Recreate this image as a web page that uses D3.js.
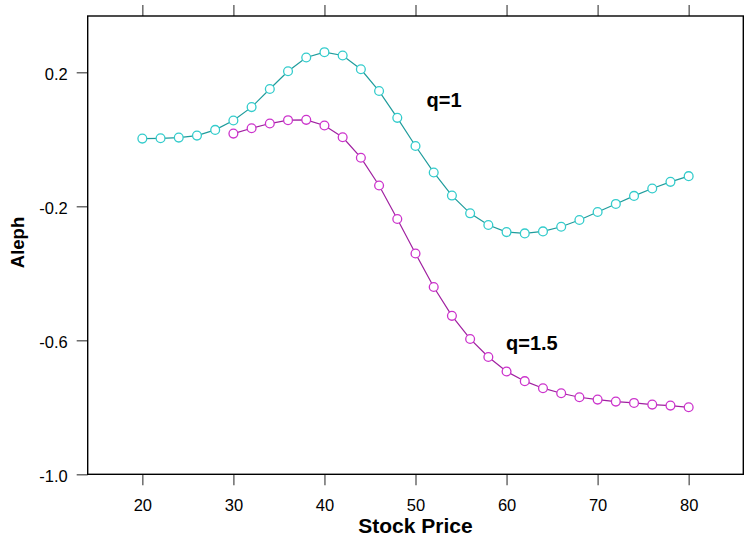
<!DOCTYPE html>
<html>
<head>
<meta charset="utf-8">
<script src="https://cdn.jsdelivr.net/npm/d3@7"></script>
<style>
  html, body { margin: 0; padding: 0; background: #fff; }
  svg { display: block; font-family: "Liberation Sans", Arial, sans-serif; }
</style>
</head>
<body>
<svg id="chart" width="744" height="537"></svg>
<script>
// ---- data ----
const stockQ1 = [20,22,24,26,28,30,32,34,36,38,40,42,44,46,48,50,52,54,56,58,60,62,64,66,68,70,72,74,76,78,80];
const alephQ1 = [0.002,0.003,0.005,0.011,0.028,0.056,0.096,0.150,0.203,0.244,0.260,0.250,0.209,0.144,0.064,-0.020,-0.099,-0.168,-0.221,-0.256,-0.277,-0.281,-0.275,-0.261,-0.241,-0.217,-0.193,-0.169,-0.147,-0.127,-0.110];
const stockQ15 = [30,32,34,36,38,40,42,44,46,48,50,52,54,56,58,60,62,64,66,68,70,72,74,76,78,80];
const alephQ15 = [0.017,0.033,0.047,0.057,0.058,0.041,0.006,-0.055,-0.138,-0.238,-0.341,-0.441,-0.527,-0.596,-0.650,-0.693,-0.722,-0.743,-0.758,-0.770,-0.777,-0.783,-0.787,-0.792,-0.795,-0.800];
const xTicks = [20,30,40,50,60,70,80];
const yTicks = [0.2,-0.2,-0.6,-1.0];
const yTickLabels = ["0.2","-0.2","-0.6","-1.0"];
const seriesLabels = ["q=1","q=1.5"];
const xTitle = "Stock Price";
const yTitle = "Aleph";

(function () {
// ---- layout ----
const L = 87.7, R = 743.3, T = 16, B = 474.3;
const x = d3.scaleLinear().domain([14, 86]).range([L, R]);
const y = d3.scaleLinear().domain([-1.0, 0.368]).range([B, T]);

const svg = d3.select("#chart");

// axes
const gBottom = svg.append("g").attr("transform", `translate(0,${B})`)
  .call(d3.axisBottom(x).tickValues(xTicks).tickFormat(d3.format("d")).tickSize(11).tickSizeOuter(0).tickPadding(14));
const gTop = svg.append("g").attr("transform", `translate(0,${T})`)
  .call(d3.axisTop(x).tickValues(xTicks).tickFormat("").tickSize(11).tickSizeOuter(0));
const gLeft = svg.append("g").attr("transform", `translate(${L},0)`)
  .call(d3.axisLeft(y).tickValues(yTicks).tickFormat((d, i) => yTickLabels[i]).tickSize(11).tickSizeOuter(0).tickPadding(9));

[gBottom, gTop, gLeft].forEach(g => {
  g.select(".domain").remove();
  g.selectAll(".tick line").attr("stroke", "#555").attr("stroke-width", 1.3);
  g.selectAll(".tick text").attr("fill", "#000").style("font-size", "16.5px")
    .style("font-family", "'Liberation Sans', Arial, sans-serif");
});
gLeft.selectAll(".tick text").attr("dy", "0.45em");

// frame
svg.append("rect").attr("x", L).attr("y", T).attr("width", R - L).attr("height", B - T)
  .attr("fill", "none").attr("stroke", "#000").attr("stroke-width", 1.4);

// series
const series = [
  {xs: stockQ1, ys: alephQ1, line: "#1f9c9c", pt: "#33cccc"},
  {xs: stockQ15, ys: alephQ15, line: "#a020a0", pt: "#cc33cc"}
];
const lineGen = d3.line().x(d => x(d[0])).y(d => y(d[1]));
series.forEach(s => {
  const pts = s.xs.map((v, i) => [v, s.ys[i]]);
  svg.append("path").datum(pts).attr("d", lineGen)
    .attr("fill", "none").attr("stroke", s.line).attr("stroke-width", 1.2);
  svg.append("g").selectAll("circle").data(pts).join("circle")
    .attr("cx", d => x(d[0])).attr("cy", d => y(d[1])).attr("r", 4.4)
    .attr("fill", "#fff").attr("stroke", s.pt).attr("stroke-width", 1.3);
});

// in-plot labels
svg.append("text").attr("x", 426.5).attr("y", 106.7).text(seriesLabels[0])
  .style("font-size", "20px").style("font-weight", "bold");
svg.append("text").attr("x", 506).attr("y", 350).text(seriesLabels[1])
  .style("font-size", "20px").style("font-weight", "bold");

// axis titles
svg.append("text").attr("x", 415.5).attr("y", 533).attr("text-anchor", "middle")
  .text(xTitle).style("font-size", "21px").style("font-weight", "bold");
svg.append("text").attr("transform", "translate(24,242.5) rotate(-90)").attr("text-anchor", "middle")
  .text(yTitle).style("font-size", "18.5px").style("font-weight", "bold");
})();
</script>
</body>
</html>
